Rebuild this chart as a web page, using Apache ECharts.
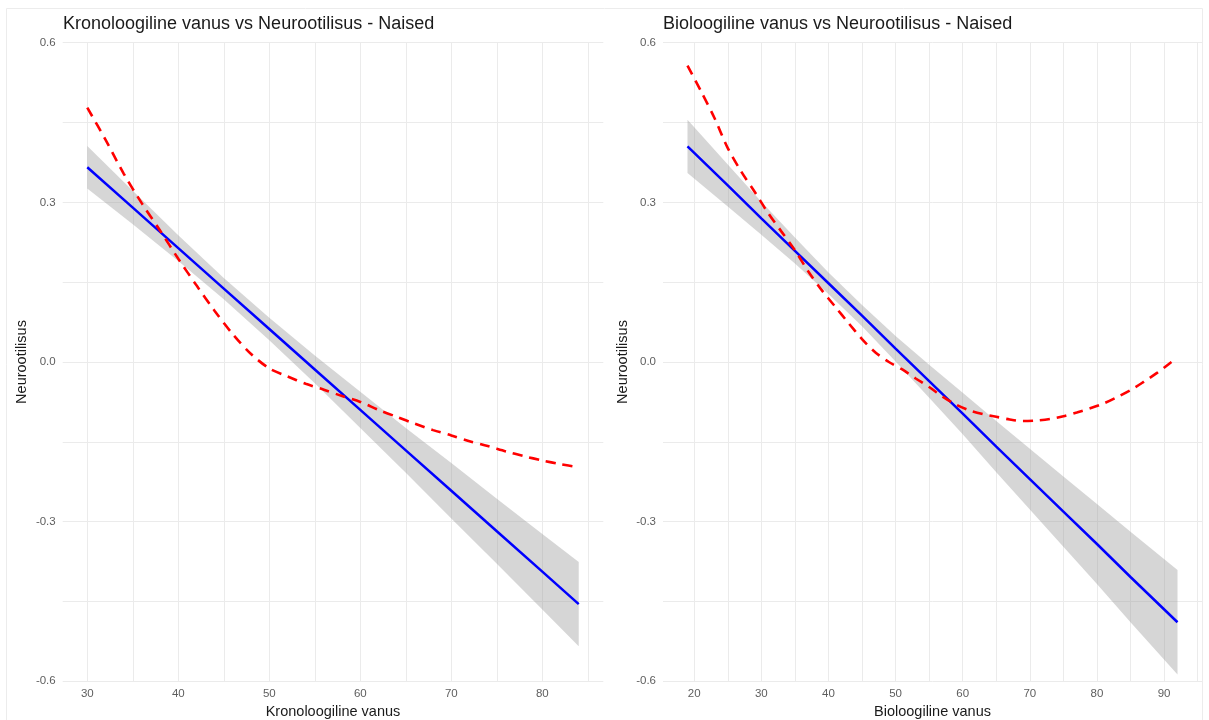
<!DOCTYPE html>
<html>
<head>
<meta charset="utf-8">
<script src="https://cdn.jsdelivr.net/npm/echarts@6/dist/echarts.min.js"></script>
<style>
  html, body { margin: 0; padding: 0; background: #fff; }
  #main { width: 1209px; height: 720px; }
</style>
</head>
<body>
<div id="main"></div>
<script>
// Left panel: Kronoloogiline vanus
var kronoX = [30, 35, 40, 45, 50, 55, 60, 65, 70, 75, 80, 84];
var kronoFit = [0.366, 0.290, 0.214, 0.138, 0.062, -0.014, -0.090, -0.166, -0.242, -0.318, -0.394, -0.455];
var kronoLow = [0.326, 0.259, 0.190, 0.118, 0.041, -0.040, -0.124, -0.208, -0.294, -0.379, -0.465, -0.534];
var kronoHigh = [0.406, 0.322, 0.238, 0.158, 0.083, 0.012, -0.056, -0.124, -0.190, -0.257, -0.323, -0.376];
var kronoSmoothX = [30, 32, 34, 36, 38, 40, 42, 44, 46, 48, 50, 52, 54, 56, 58, 60, 62, 64, 66, 68, 70, 72, 74, 76, 78, 80, 82, 84];
var kronoSmooth = [0.478, 0.418, 0.354, 0.298, 0.247, 0.194, 0.144, 0.096, 0.052, 0.015, -0.012, -0.027, -0.041, -0.052, -0.064, -0.075, -0.090, -0.103, -0.116, -0.128, -0.138, -0.149, -0.158, -0.168, -0.177, -0.185, -0.192, -0.198];
var kronoTicks = [30, 40, 50, 60, 70, 80];
var kronoMinor = [35, 45, 55, 65, 75, 85];

// Right panel: Bioloogiline vanus
var bioX = [19, 25, 30, 35, 40, 45, 50, 55, 60, 65, 70, 75, 80, 85, 92];
var bioFit = [0.405, 0.332, 0.270, 0.209, 0.148, 0.087, 0.025, -0.036, -0.097, -0.159, -0.220, -0.281, -0.342, -0.404, -0.489];
var bioLow = [0.355, 0.292, 0.239, 0.185, 0.128, 0.067, 0.001, -0.067, -0.136, -0.207, -0.277, -0.347, -0.417, -0.489, -0.587];
var bioHigh = [0.455, 0.371, 0.301, 0.234, 0.168, 0.107, 0.049, -0.005, -0.058, -0.111, -0.163, -0.215, -0.267, -0.319, -0.391];
var bioSmoothX = [19, 21, 23, 25, 27, 29, 31, 33, 35, 37, 39, 41, 43, 45, 47, 49, 51, 53, 55, 57, 59, 61, 63, 65, 67, 69, 71, 73, 75, 77, 79, 81, 83, 85, 87, 89, 91, 92];
var bioSmooth = [0.557, 0.509, 0.459, 0.402, 0.358, 0.320, 0.280, 0.245, 0.210, 0.170, 0.135, 0.104, 0.073, 0.043, 0.018, 0.000, -0.014, -0.031, -0.047, -0.065, -0.080, -0.091, -0.098, -0.103, -0.108, -0.111, -0.110, -0.107, -0.102, -0.095, -0.087, -0.078, -0.066, -0.053, -0.037, -0.020, -0.001, 0.008];
var bioTicks = [20, 30, 40, 50, 60, 70, 80, 90];
var bioMinor = [25, 35, 45, 55, 65, 75, 85, 95];

var yTickColor = '#5e5e5e';
var gridColor = '#ebebeb';
var font = 'Liberation Sans';

function pairs(xs, ys) {
  return xs.map(function (x, i) { return [x, ys[i]]; });
}
function vLines(major, minor) {
  var d = [];
  major.forEach(function (v) {
    d.push({
      xAxis: v,
      label: { show: true, position: 'start', distance: 7, formatter: String(v),
               color: yTickColor, fontSize: 11.5, fontFamily: font }
    });
  });
  minor.forEach(function (v) { d.push({ xAxis: v, label: { show: false } }); });
  return d;
}

function panelSeries(idx, xs, fit, lo, hi, sx, sy, major, minor) {
  return [
    {
      // vertical grid lines and x tick labels
      type: 'line', xAxisIndex: idx, yAxisIndex: idx, data: [], z: 1, silent: true,
      markLine: {
        silent: true, symbol: ['none', 'none'], animation: false, z: 1,
        lineStyle: { color: gridColor, width: 1, type: 'solid' },
        emphasis: { disabled: true },
        data: vLines(major, minor)
      }
    },
    {
      // confidence band
      type: 'custom', xAxisIndex: idx, yAxisIndex: idx, z: 2, silent: true,
      data: xs.map(function (x, i) { return [x, lo[i], hi[i]]; }),
      encode: { x: 0, y: [1, 2] },
      renderItem: function (params, api) {
        if (params.dataIndex !== 0) return;
        var top = [], bot = [];
        for (var i = 0; i < xs.length; i++) {
          top.push(api.coord([xs[i], hi[i]]));
          bot.unshift(api.coord([xs[i], lo[i]]));
        }
        return {
          type: 'polygon', shape: { points: top.concat(bot) },
          style: { fill: '#999999', opacity: 0.4 }
        };
      }
    },
    {
      type: 'line', xAxisIndex: idx, yAxisIndex: idx, data: pairs(xs, fit), symbol: 'none',
      lineStyle: { color: '#0000ff', width: 2.5 }, z: 3, silent: true
    },
    {
      type: 'line', xAxisIndex: idx, yAxisIndex: idx, data: pairs(sx, sy), symbol: 'none',
      smooth: 0.3, lineStyle: { color: '#ff0000', width: 2.6, type: [10, 7] }, z: 4, silent: true
    }
  ];
}

function xAxisDef(idx, min, max, name) {
  return {
    type: 'value', gridIndex: idx, min: min, max: max,
    axisLabel: { show: false }, axisTick: { show: false }, axisLine: { show: false },
    splitLine: { show: false },
    name: name, nameLocation: 'middle', nameGap: 23,
    nameTextStyle: { color: '#1a1a1a', fontSize: 14.5, fontFamily: font }
  };
}
function yAxisDef(idx) {
  return {
    type: 'value', gridIndex: idx, min: -0.6, max: 0.6, interval: 0.3,
    axisLabel: { color: yTickColor, fontSize: 11.5, fontFamily: font, margin: 7,
                 formatter: function (v) { return v.toFixed(1); } },
    axisTick: { show: false }, axisLine: { show: false },
    splitLine: { show: true, lineStyle: { color: gridColor, width: 1 } },
    minorTick: { show: false, splitNumber: 2 },
    minorSplitLine: { show: true, lineStyle: { color: gridColor, width: 1 } },
    name: 'Neurootilisus', nameLocation: 'middle', nameRotate: 90, nameGap: 33,
    nameTextStyle: { color: '#1a1a1a', fontSize: 14.5, fontFamily: font }
  };
}

var myChart = echarts.init(document.getElementById('main'));
var option = {
  animation: false,
  backgroundColor: '#ffffff',
  graphic: [{
    type: 'rect', shape: { x: 6.5, y: 8.5, width: 1196, height: 720 },
    style: { fill: 'none', stroke: '#ececec', lineWidth: 1 }, silent: true, z: -10
  }],
  title: [
    { text: 'Kronoloogiline vanus vs Neurootilisus - Naised', left: 58, top: 10,
      textStyle: { fontSize: 18, fontWeight: 'normal', color: '#1a1a1a', fontFamily: font } },
    { text: 'Bioloogiline vanus vs Neurootilisus - Naised', left: 658, top: 10,
      textStyle: { fontSize: 18, fontWeight: 'normal', color: '#1a1a1a', fontFamily: font } }
  ],
  grid: [
    { left: 62.7, top: 42.7, width: 540.6, height: 638.6, outerBoundsMode: 'none', containLabel: false },
    { left: 663, top: 42.7, width: 539, height: 638.6, outerBoundsMode: 'none', containLabel: false }
  ],
  xAxis: [
    xAxisDef(0, 27.3, 86.7, 'Kronoloogiline vanus'),
    xAxisDef(1, 15.35, 95.65, 'Bioloogiline vanus')
  ],
  yAxis: [yAxisDef(0), yAxisDef(1)],
  series: [].concat(
    panelSeries(0, kronoX, kronoFit, kronoLow, kronoHigh, kronoSmoothX, kronoSmooth, kronoTicks, kronoMinor),
    panelSeries(1, bioX, bioFit, bioLow, bioHigh, bioSmoothX, bioSmooth, bioTicks, bioMinor)
  )
};
option && myChart.setOption(option);
</script>
</body>
</html>
